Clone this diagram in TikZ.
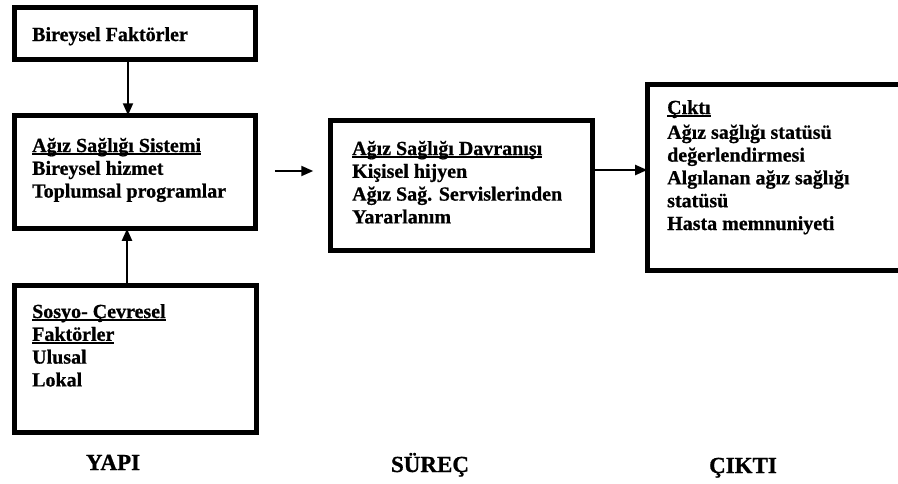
\documentclass[tikz,border=0pt]{standalone}
\usepackage{fontspec}
\setmainfont{Liberation Serif}[BoldFeatures={FakeBold=0.8}]
\usetikzlibrary{arrows.meta}
% heavy underline for the box headings
\newcommand\hdul[1]{\setbox0=\hbox{#1}\rlap{\rule[-3pt]{\wd0}{1.6pt}}\box0}
% left-aligned stack of lines whose baseline is that of the first line
\newcommand\linestack[1]{\vtop{\halign{##\hfil\cr#1\crcr}}}
\begin{document}
\begin{tikzpicture}[x=1pt,y=-1pt,
  box/.style={draw,line width=4.8pt,inner sep=0pt,outer sep=0pt},
  body/.style={anchor=base west,inner sep=0pt,
    font=\bfseries\fontsize{20}{22.8}\selectfont},
  phase/.style={anchor=base,inner sep=0pt,font=\bfseries\fontsize{23}{26}\selectfont},
  arr/.style={line width=2pt,-{Triangle[length=12pt,width=10pt]}}]
\useasboundingbox (0,0) rectangle (898,483);

% frames
\node[box,minimum width=241.5pt,minimum height=52.5pt] (b1) at (135,33.5) {};
\node[box,minimum width=241.5pt,minimum height=113.5pt] (b2) at (135,172) {};
\node[box,minimum width=242.5pt,minimum height=147.5pt] (b3) at (135.5,359) {};
\node[box,minimum width=262.5pt,minimum height=130.5pt] (b4) at (461.5,185.5) {};
\node[box,minimum width=253.75pt,minimum height=186.5pt] (b5) at (774.1,177.5) {};

% contents
\node[body] (t1) at (32,41) {Bireysel Faktörler};
\node[body] (t2) at (32,152) {\linestack{\hdul{Ağız Sağlığı Sistemi}\cr Bireysel hizmet\cr Toplumsal programlar}};
\node[body] (t3) at (32,318) {\linestack{\hdul{Sosyo- Çevresel}\cr \hdul{Faktörler}\cr Ulusal\cr Lokal}};
\node[body] (t4) at (352,155) {\linestack{\hdul{Ağız Sağlığı Davranışı}\cr Kişisel hijyen\cr Ağız Sağ. Servislerinden\cr Yararlanım}};
\node[body] (t5) at (667,114) {\linestack{\hdul{Çıktı}\cr\noalign{\kern2pt} Ağız sağlığı statüsü\cr değerlendirmesi\cr Algılanan ağız sağlığı\cr statüsü\cr Hasta memnuniyeti}};

% phase labels
\node[phase] (p1) at (113,470) {YAPI};
\node[phase] (p2) at (430,472) {SÜREÇ};
\node[phase] (p3) at (743,473) {ÇIKTI};

% connectors
\coordinate (xa) at (128,0);
\coordinate (xb) at (127,0);
\coordinate (ya) at (0,171);
\coordinate (yb) at (0,170);
\draw[arr] (b1.south -| xa) -- (b2.north -| xa);
\draw[arr] (b3.north -| xb) -- (b2.south -| xb);
\draw[arr,shorten <=19pt,shorten >=17pt] (b2.east |- ya) -- (b4.west |- ya);
\draw[arr] (b4.east |- yb) -- (b5.west |- yb);
\end{tikzpicture}
\end{document}
